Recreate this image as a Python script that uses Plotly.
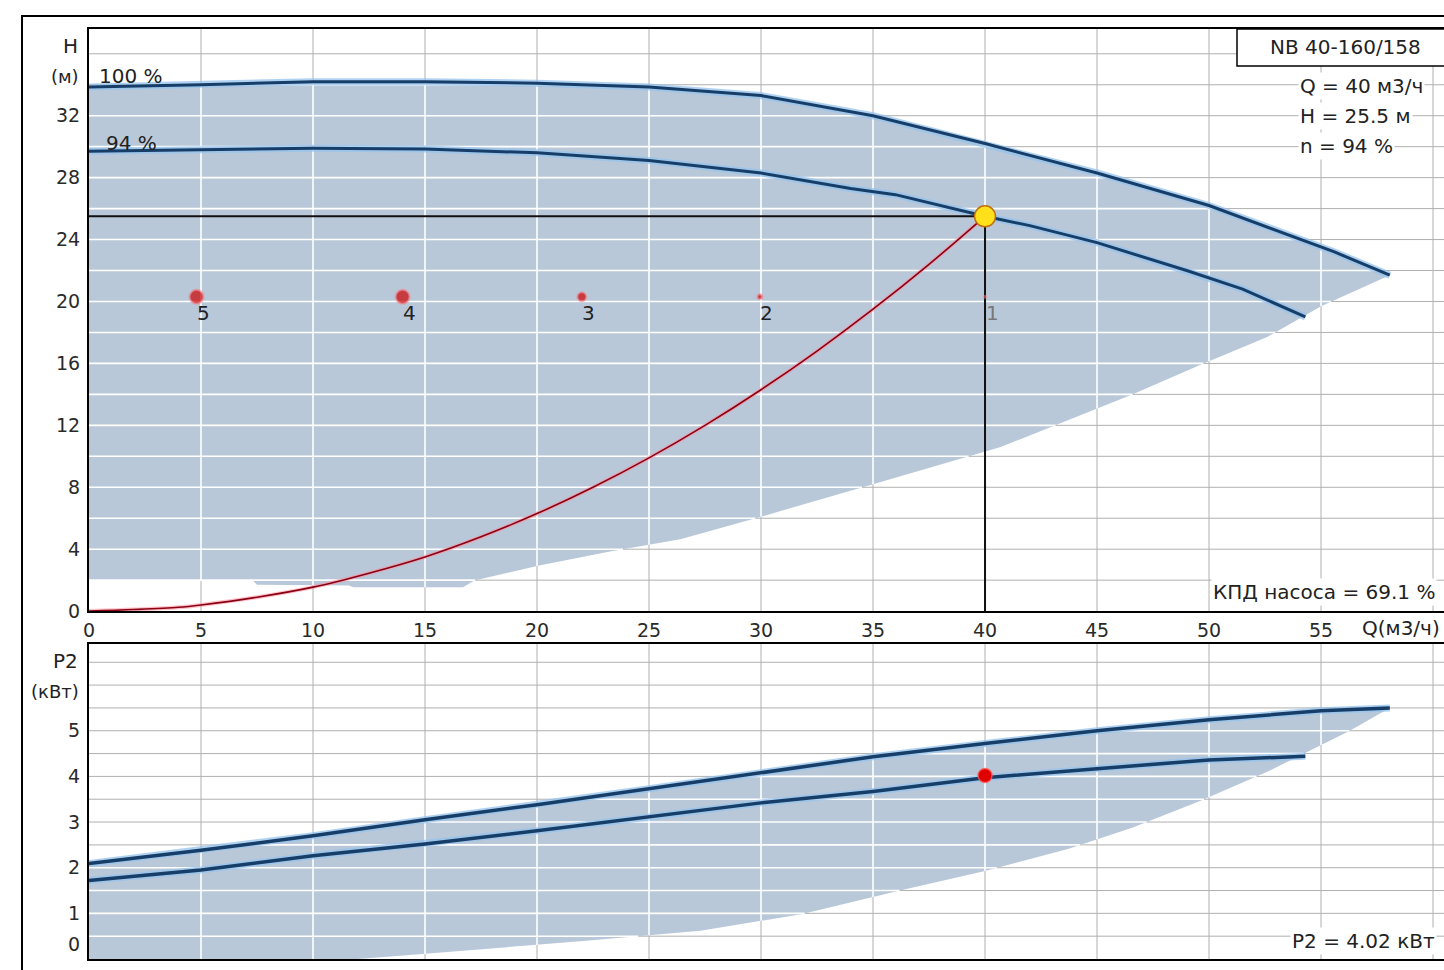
import numpy as np
import plotly.graph_objects as go

# ---------------- data ----------------
# pump head curves H(Q)
q_100 = [0, 2, 5, 10, 15, 20, 25, 30, 35, 40, 45, 50, 53, 55.6, 58.07]
h_100 = [33.85, 33.9, 34.0, 34.2, 34.2, 34.1, 33.85, 33.3, 32.0, 30.2, 28.3, 26.2, 24.6, 23.2, 21.7]
q_94 = [0, 3, 5, 10, 15, 20, 25, 30, 34, 36, 40, 42, 45, 49, 51.5, 54.3]
h_94 = [29.7, 29.75, 29.8, 29.9, 29.85, 29.6, 29.1, 28.3, 27.3, 26.9, 25.5, 24.9, 23.8, 22.0, 20.8, 19.0]
# lower limit of the operating range (head)
q_hmin = [0, 7.3, 7.5, 11.6, 11.8, 16.7, 17.2, 20.1, 23.2, 26.4, 30, 35, 40.7, 43.0, 46.6, 49.6, 52.6, 55.0, 58.07]
h_hmin = [2.0, 2.0, 1.7, 1.66, 1.55, 1.55, 1.98, 2.95, 3.83, 4.65, 6.1, 8.2, 10.6, 11.9, 14.0, 15.9, 17.7, 19.7, 21.7]
# system curve
q_sys = [0, 2, 4, 5, 7.5, 10, 12.5, 15, 17.5, 20, 22.5, 25, 27.5, 30, 32.5, 35, 37.5, 40]
h_sys = [0, 0.1, 0.25, 0.4, 0.9, 1.55, 2.45, 3.5, 4.8, 6.3, 8.0, 9.9, 12.0, 14.3, 16.8, 19.5, 22.4, 25.5]
# marked points 1..5
mark_labels = ["1", "2", "3", "4", "5"]
q_marks = [40, 29.95, 22.0, 14.0, 4.8]
h_marks = [20.3, 20.3, 20.3, 20.3, 20.3]
mark_sizes = [2, 5, 9, 14, 14]
# duty point
q_duty = 40
h_duty = 25.5
p_duty = 4.02
# power curves P2(Q)
q_p100 = [0, 5, 10, 15, 20, 25, 30, 35, 40, 45, 50, 55, 58.07]
p_100 = [2.09, 2.38, 2.70, 3.05, 3.38, 3.73, 4.08, 4.43, 4.72, 5.0, 5.24, 5.44, 5.50]
q_p94 = [0, 5, 10, 15, 20, 25, 30, 35, 40, 45, 50, 54.3]
p_94 = [1.72, 1.95, 2.26, 2.52, 2.81, 3.11, 3.42, 3.67, 3.97, 4.17, 4.36, 4.44]
q_pmin = [0, 12, 13.9, 16.9, 22.2, 27.3, 31.8, 36.2, 40, 43.7, 46.6, 49.6, 52.6, 56.2, 58.07]
p_pmin = [0, 0, 0.07, 0.18, 0.40, 0.62, 0.98, 1.50, 1.93, 2.41, 2.88, 3.46, 4.10, 4.98, 5.50]

# axes / ticks
q_ticks = [0, 5, 10, 15, 20, 25, 30, 35, 40, 45, 50, 55]
h_ticks = [0, 4, 8, 12, 16, 20, 24, 28, 32]
p_tick_labels = ["0", "1", "2", "3", "4", "5"]
p_tick_pos = [0.33, 1, 2, 3, 4, 5]
q_grid = [5, 10, 15, 20, 25, 30, 35, 40, 45, 50, 55, 60]
h_grid = list(np.arange(2, 37.5, 2))
p_grid = list(np.arange(0.5, 6.9, 0.5))

X_RANGE = [0, 60.49]
H_RANGE = [0, 37.6]
P_RANGE = [0, 6.9]

# ---------------- styling ----------------
FONT = "DejaVu Sans"
SHADE = "#b9c8d8"
GRID = "#b0b0b0"
CURVE = "#163e68"
HALO = "rgba(150,195,238,0.75)"

W, H = 1444, 970
ML, MR, MT, MB = 89, 0, 29, 8
PW, PH = W - ML - MR, H - MT - MB


def px(x):
    return (x - ML) / PW


def py(y):
    return (H - MB - y) / PH


def grid_lines(levels_x, levels_y, yr):
    xs, ys = [], []
    for c in levels_x:
        xs += [c, c, None]
        ys += [yr[0], yr[1], None]
    for c in levels_y:
        xs += [X_RANGE[0], X_RANGE[1], None]
        ys += [c, c, None]
    return xs, ys


def clipped_grid(qu, hu, ql, hl, levels_x, levels_y):
    qmax = max(qu)
    xs_s = np.linspace(0, qmax, 2500)
    up = np.interp(xs_s, qu, hu)
    lo = np.interp(xs_s, ql, hl)
    xs, ys = [], []
    for c in levels_y:
        m = (lo <= c) & (up >= c)
        xs += list(xs_s) + [None]
        ys += [c if mi else None for mi in m] + [None]
    for c in levels_x:
        if c < qmax:
            xs += [c, c, None]
            ys += [float(np.interp(c, ql, hl)), float(np.interp(c, qu, hu)), None]
    return xs, ys


fig = go.Figure()

# ======== top panel: H(Q) ========
gx, gy = grid_lines(q_grid, h_grid, H_RANGE)
fig.add_trace(go.Scatter(x=gx, y=gy, mode="lines", line=dict(color=GRID, width=1),
                         xaxis="x", yaxis="y", hoverinfo="skip"))
fig.add_trace(go.Scatter(x=q_100 + q_hmin[::-1], y=h_100 + h_hmin[::-1], fill="toself",
                         fillcolor=SHADE, line=dict(width=0), mode="lines",
                         xaxis="x", yaxis="y", hoverinfo="skip"))
wx, wy = clipped_grid(q_100, h_100, q_hmin, h_hmin, q_grid, h_grid)
fig.add_trace(go.Scatter(x=wx, y=wy, mode="lines", line=dict(color="white", width=1.6),
                         connectgaps=False, xaxis="x", yaxis="y", hoverinfo="skip"))
for qq, hh, wd in [(q_100, h_100, 3), (q_94, h_94, 3)]:
    fig.add_trace(go.Scatter(x=qq, y=hh, mode="lines", line=dict(color=HALO, width=7),
                             xaxis="x", yaxis="y", hoverinfo="skip"))
    fig.add_trace(go.Scatter(x=qq, y=hh, mode="lines", line=dict(color=CURVE, width=wd),
                             xaxis="x", yaxis="y", hoverinfo="skip"))
# system curve
fig.add_trace(go.Scatter(x=q_sys, y=h_sys, mode="lines", line=dict(color="rgba(255,140,160,0.55)", width=4, shape="spline"),
                         xaxis="x", yaxis="y", hoverinfo="skip"))
fig.add_trace(go.Scatter(x=q_sys, y=h_sys, mode="lines", line=dict(color="#8a0010", width=1.6, shape="spline"),
                         xaxis="x", yaxis="y", hoverinfo="skip"))
# duty lines
fig.add_trace(go.Scatter(x=[0, q_duty, q_duty], y=[h_duty, h_duty, 0], mode="lines",
                         line=dict(color="#111111", width=2), xaxis="x", yaxis="y", hoverinfo="skip"))
# marked points
fig.add_trace(go.Scatter(x=q_marks, y=h_marks, mode="markers",
                         marker=dict(size=mark_sizes, color="#cc0000",
                                     line=dict(color="rgba(255,120,130,0.7)", width=2)),
                         xaxis="x", yaxis="y", hoverinfo="skip"))
# duty point
fig.add_trace(go.Scatter(x=[q_duty], y=[h_duty], mode="markers",
                         marker=dict(size=21, color="#ffe01a", line=dict(color="#c07010", width=1.5)),
                         xaxis="x", yaxis="y", hoverinfo="skip"))

# ======== bottom panel: P2(Q) ========
gx2, gy2 = grid_lines(q_grid, p_grid, P_RANGE)
fig.add_trace(go.Scatter(x=gx2, y=gy2, mode="lines", line=dict(color=GRID, width=1),
                         xaxis="x2", yaxis="y2", hoverinfo="skip"))
fig.add_trace(go.Scatter(x=q_p100 + q_pmin[::-1], y=p_100 + p_pmin[::-1], fill="toself",
                         fillcolor=SHADE, line=dict(width=0), mode="lines",
                         xaxis="x2", yaxis="y2", hoverinfo="skip"))
wx2, wy2 = clipped_grid(q_p100, p_100, q_pmin, p_pmin, q_grid, p_grid)
fig.add_trace(go.Scatter(x=wx2, y=wy2, mode="lines", line=dict(color="white", width=1.6),
                         connectgaps=False, xaxis="x2", yaxis="y2", hoverinfo="skip"))
for qq, pp in [(q_p100, p_100), (q_p94, p_94)]:
    fig.add_trace(go.Scatter(x=qq, y=pp, mode="lines", line=dict(color=HALO, width=7),
                             xaxis="x2", yaxis="y2", hoverinfo="skip"))
    fig.add_trace(go.Scatter(x=qq, y=pp, mode="lines", line=dict(color=CURVE, width=3.5),
                             xaxis="x2", yaxis="y2", hoverinfo="skip"))
fig.add_trace(go.Scatter(x=[q_duty], y=[p_duty], mode="markers",
                         marker=dict(size=14, color="#e00000", line=dict(color="rgba(255,90,90,0.8)", width=1.5)),
                         xaxis="x2", yaxis="y2", hoverinfo="skip"))

tickfont = dict(family=FONT, size=19, color="#2a2a2a")
txtfont = dict(family=FONT, size=20, color="#222222")

top_dom = [py(613), 1.0]
bot_dom = [0.0, py(646)]

fig.update_layout(
    width=W, height=H,
    margin=dict(l=ML, r=MR, t=MT, b=MB, pad=0),
    paper_bgcolor="white", plot_bgcolor="white",
    showlegend=False, hovermode=False,
    xaxis=dict(domain=[0, 1], range=X_RANGE, anchor="y", showgrid=False, zeroline=False,
               tickmode="array", tickvals=q_ticks, ticktext=[str(v) for v in q_ticks],
               tickfont=tickfont, ticks="", ticklabelstandoff=1,
               showline=True, mirror=True, linecolor="black", linewidth=2),
    yaxis=dict(domain=top_dom, range=H_RANGE, anchor="x", showgrid=False, zeroline=False,
               tickmode="array", tickvals=h_ticks, ticktext=[str(v) for v in h_ticks],
               tickfont=tickfont, ticks="", ticklabelstandoff=3,
               showline=True, linecolor="black", linewidth=2),
    xaxis2=dict(domain=[0, 1], range=X_RANGE, anchor="y2", showgrid=False, zeroline=False,
                showticklabels=False, ticks="",
                showline=True, mirror=True, linecolor="black", linewidth=2),
    yaxis2=dict(domain=bot_dom, range=P_RANGE, anchor="x2", showgrid=False, zeroline=False,
                tickmode="array", tickvals=p_tick_pos, ticktext=p_tick_labels,
                tickfont=tickfont, ticks="", ticklabelstandoff=3,
                showline=True, linecolor="black", linewidth=2),
)

shapes = [
    # outer frame
    dict(type="rect", xref="paper", yref="paper", x0=px(22), x1=px(1470), y0=py(990), y1=py(16),
         line=dict(color="black", width=2), fillcolor="rgba(0,0,0,0)", layer="above"),
    # model name box
    dict(type="rect", xref="paper", yref="paper", x0=px(1237), x1=px(1470), y0=py(66), y1=py(29),
         line=dict(color="black", width=1.5), fillcolor="white", layer="above"),
]
fig.update_layout(shapes=shapes)

ann = []


def txt(text, x, y, xanchor="center", bg=None, font=None, **kw):
    d = dict(text=text, xref="paper", yref="paper", x=px(x), y=py(y), xanchor=xanchor,
             yanchor="middle", showarrow=False, font=font or txtfont)
    if bg:
        d.update(bgcolor=bg, borderpad=1)
    d.update(kw)
    ann.append(d)


txt("H", 80, 46, xanchor="right")
txt("(м)", 81, 77, xanchor="right", font=dict(family=FONT, size=18, color="#222"))
txt("P2", 80, 663, xanchor="right")
txt("(кВт)", 81, 694, xanchor="right", font=dict(family=FONT, size=18, color="#222"))
txt("100 %", 97, 76, xanchor="left")
txt("94 %", 104, 143, xanchor="left")
txt("NB 40-160/158", 1345, 47)
txt("Q = 40 м3/ч", 1298, 86, xanchor="left", bg="white")
txt("H = 25.5 м", 1298, 116, xanchor="left", bg="white")
txt("n = 94 %", 1298, 146, xanchor="left", bg="white")
txt("КПД насоса = 69.1 %", 1437, 594, xanchor="right", bg="white")
txt("Q(м3/ч)", 1360, 630, xanchor="left")
txt("P2 = 4.02 кВт", 1437, 944, xanchor="right", bg="white")

for lab, q, h in zip(mark_labels, q_marks, h_marks):
    ann.append(dict(text=lab, x=q, y=h, xref="x", yref="y", showarrow=False,
                    xshift=7, yshift=-16, font=dict(family=FONT, size=20,
                                                     color="#777" if lab == "1" else "#222")))

fig.update_layout(annotations=ann)

fig.write_html("out.html", config={"displayModeBar": False},
               post_script="document.body.style.margin='0';document.body.style.overflow='hidden';")
